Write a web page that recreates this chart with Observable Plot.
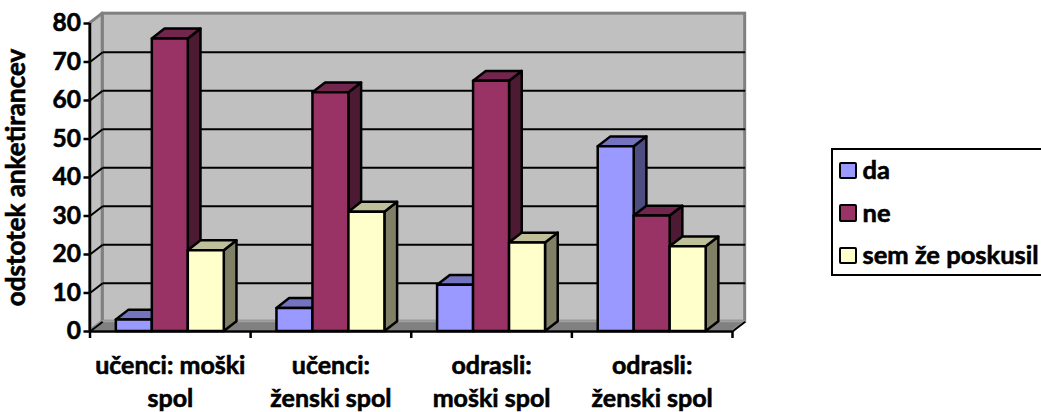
<!DOCTYPE html>
<html><head><meta charset="utf-8">
<script src="https://cdn.jsdelivr.net/npm/d3@7"></script>
<script src="https://cdn.jsdelivr.net/npm/@observablehq/plot@0.6"></script>
<style>
html,body{margin:0;padding:0;background:#fff;overflow:hidden;width:1041px;height:412px}
#wrap{position:relative;width:1041px;height:412px;overflow:hidden;font-family:Lato,sans-serif;font-weight:700;color:#000}
#wrap svg text{stroke:#000;stroke-width:.6px}
#legend{position:absolute;left:831px;top:148px;width:240px;height:124px;border:2.5px solid #000;box-sizing:content-box}
.row{position:absolute;left:6px;font-size:25.5px;line-height:26px;white-space:nowrap;-webkit-text-stroke:.6px #000}
.sw{display:inline-block;width:13.5px;height:13.5px;border:2.5px solid #000;border-radius:2px;vertical-align:0;margin-right:6px;-webkit-text-stroke:0}
</style></head><body><div id="wrap"></div>
<script>
const categories = ["učenci: moški\nspol", "učenci:\nženski spol", "odrasli:\nmoški spol", "odrasli:\nženski spol"];
const seriesNames = ["da", "ne", "sem že poskusil"];
const da = [3, 6, 12, 48];
const ne = [76, 62, 65, 30];
const sem = [21, 31, 23, 22];
const yTicks = [0, 10, 20, 30, 40, 50, 60, 70, 80];
const front = ["#9999FF", "#993366", "#FFFFCC"];
const top_ = ["#7373BF", "#73264D", "#BFBF99"];
const side = ["#4D4D80", "#4D1A33", "#808066"];
const yTitle = "odstotek anketirancev";

const values = [da, ne, sem];
const dX = 0.079, dY = 2.55, barW = 0.224, sw = 2.5;
const start = (1 - 3 * barW) / 2;

const gridVals = yTicks.filter(v => v > 0 && v < 80);
const marks = [
  Plot.rect([0], {x1: dX, x2: 4 + dX, y1: dY, y2: 80 + dY, fill: "#C0C0C0", stroke: "#808080", strokeWidth: 3}),
  Plot.areaY([0, 1], {x: i => i * dX, y1: i => i * dY, y2: i => 80 + i * dY, fill: "#C0C0C0", stroke: "#808080", strokeWidth: 3}),
  Plot.areaX([0, 1], {y: i => i * dY, x1: i => i * dX, x2: i => 4 + i * dX, fill: "#808080", stroke: "#A0A0A0", strokeWidth: 2}),
  Plot.link(gridVals, {x1: dX, x2: 4 + dX, y1: v => v + dY, y2: v => v + dY, stroke: "#000", strokeWidth: 2}),
  Plot.link(gridVals, {x1: 0, x2: dX, y1: v => v, y2: v => v + dY, stroke: "#000", strokeWidth: 2}),
  Plot.link([0, 4], {x1: v => v, x2: v => v + dX, y1: 0, y2: dY, stroke: "#000", strokeWidth: 2}),
  Plot.ruleY([0], {stroke: "#000", strokeWidth: 2.5})
];

categories.forEach((c, g) => {
  values.forEach((vals, s) => {
    const v = vals[g];
    const l = g + start + s * barW, r = l + barW;
    const o = {stroke: "#000", strokeWidth: sw, strokeLinejoin: "round"};
    marks.push(
      Plot.areaY([0, 1], {x: i => r + i * dX, y1: i => i * dY, y2: i => v + i * dY, fill: side[s], ...o}),
      Plot.areaX([0, 1], {y: i => v + i * dY, x1: i => l + i * dX, x2: i => r + i * dX, fill: top_[s], ...o}),
      Plot.rect([0], {x1: l, x2: r, y1: 0, y2: v, fill: front[s], ...o})
    );
  });
});

marks.push(
  Plot.ruleX([0], {y1: 0, y2: 80, stroke: "#000", strokeWidth: 2.5}),
  Plot.axisY({ticks: yTicks, tickSize: 6, tickPadding: 3, strokeWidth: 2.5, stroke: "#000", fontSize: 24.5, fontWeight: 700, label: null}),
  Plot.axisX({ticks: [0, 1, 2, 3, 4], tickSize: 7, strokeWidth: 2.5, stroke: "#000", tickFormat: () => "", label: null}),
  Plot.text(categories, {x: (d, i) => i + 0.5, y: 0, text: d => d, dy: 19, lineAnchor: "top", lineHeight: 1.32, fontSize: 25, fontWeight: 700, fill: "#000"}),
  Plot.text([yTitle], {x: 0, y: 40, text: d => d, dx: -73, rotate: -90, fontSize: 26, fontWeight: 700, fill: "#000"})
);

const chart = Plot.plot({
  width: 1041, height: 412,
  marginLeft: 89.5, marginRight: 309, marginTop: 23, marginBottom: 81,
  style: {background: "transparent", overflow: "visible", fontFamily: "Lato, sans-serif"},
  x: {type: "linear", domain: [0, 4], axis: null},
  y: {domain: [0, 80], axis: null},
  marks
});
const wrap = document.getElementById("wrap");
wrap.appendChild(chart);

const legend = document.createElement("div");
legend.id = "legend";
seriesNames.forEach((n, i) => {
  const row = document.createElement("div");
  row.className = "row";
  row.style.top = (6 + i * 42.5) + "px";
  const sq = document.createElement("span");
  sq.className = "sw";
  sq.style.background = front[i];
  row.appendChild(sq);
  row.appendChild(document.createTextNode(n));
  legend.appendChild(row);
});
wrap.appendChild(legend);
</script></body></html>
